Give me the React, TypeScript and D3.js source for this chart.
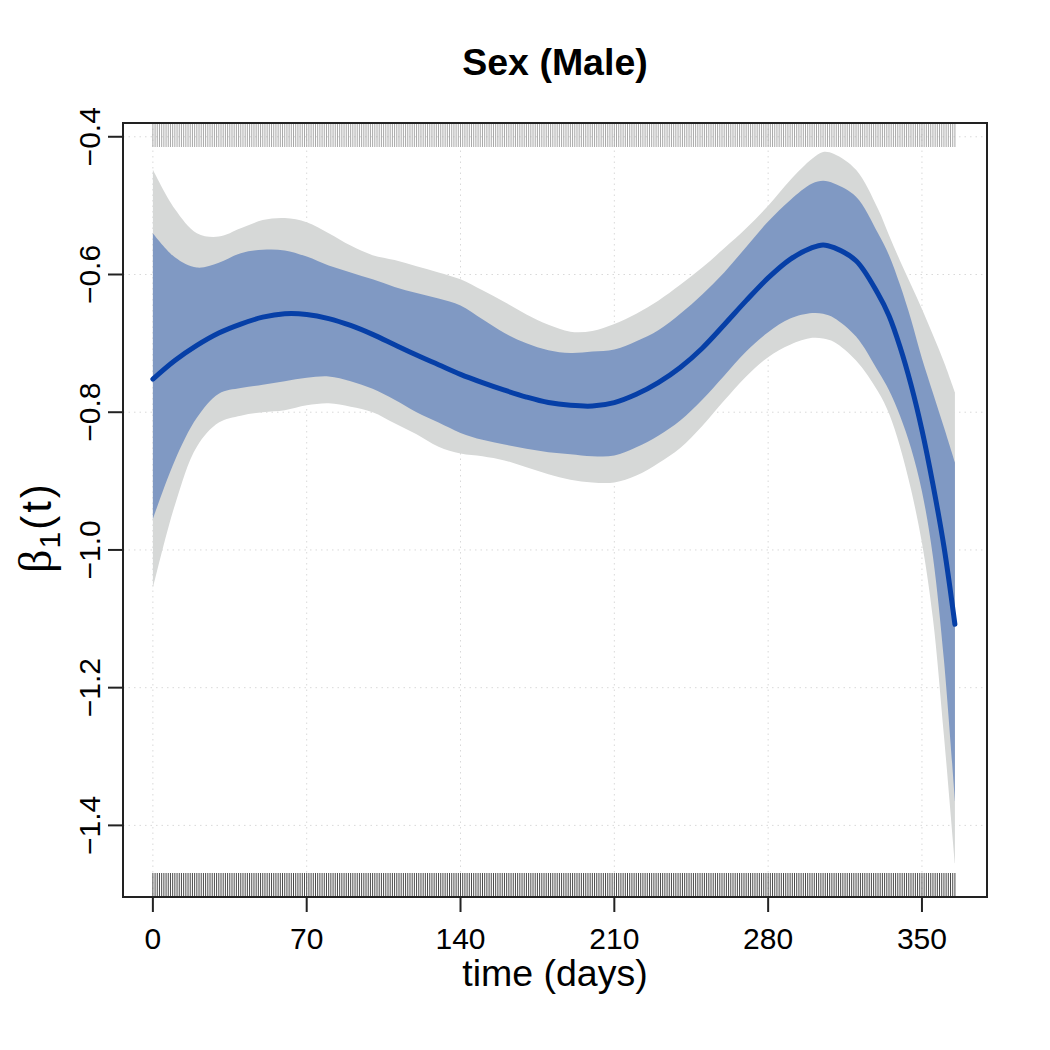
import { useEffect, useRef } from 'react';
import * as d3 from 'd3';

const W = 1050;
const H = 1050;
const BOX = { left: 123, right: 987, top: 123, bottom: 897 };

// time grid (days) the coefficient curve and its bands are sampled on
const days = [0, 10, 20, 30, 40, 50, 60, 70, 80, 90, 100, 110, 120, 130, 140, 150, 160, 170, 180, 190, 200, 210, 220, 230, 240, 250, 260, 270, 280, 290, 300, 305, 310, 320, 330, 335, 340, 345, 350, 355, 360, 365];

const beta = [-0.752, -0.725, -0.703, -0.685, -0.672, -0.662, -0.657, -0.658, -0.664, -0.674, -0.687, -0.702, -0.717, -0.731, -0.745, -0.757, -0.768, -0.778, -0.786, -0.790, -0.791, -0.786, -0.774, -0.757, -0.735, -0.707, -0.673, -0.638, -0.605, -0.578, -0.561, -0.557, -0.561, -0.580, -0.628, -0.660, -0.705, -0.760, -0.826, -0.905, -0.995, -1.108];

const innerHi = [-0.540, -0.575, -0.590, -0.583, -0.569, -0.564, -0.565, -0.574, -0.587, -0.597, -0.607, -0.618, -0.627, -0.635, -0.645, -0.665, -0.685, -0.700, -0.710, -0.714, -0.712, -0.709, -0.697, -0.681, -0.657, -0.629, -0.597, -0.560, -0.523, -0.492, -0.468, -0.464, -0.468, -0.487, -0.540, -0.572, -0.615, -0.665, -0.722, -0.772, -0.822, -0.873];

const innerLo = [-0.955, -0.870, -0.808, -0.773, -0.765, -0.760, -0.755, -0.750, -0.748, -0.755, -0.766, -0.782, -0.800, -0.815, -0.830, -0.840, -0.847, -0.853, -0.858, -0.861, -0.864, -0.863, -0.851, -0.834, -0.812, -0.782, -0.747, -0.712, -0.684, -0.664, -0.656, -0.657, -0.663, -0.690, -0.740, -0.768, -0.805, -0.852, -0.915, -1.010, -1.160, -1.365];

const outerHi = [-0.448, -0.505, -0.540, -0.545, -0.533, -0.521, -0.518, -0.524, -0.540, -0.558, -0.572, -0.579, -0.588, -0.597, -0.607, -0.623, -0.640, -0.658, -0.673, -0.683, -0.682, -0.672, -0.657, -0.638, -0.615, -0.590, -0.562, -0.533, -0.500, -0.463, -0.432, -0.422, -0.425, -0.448, -0.505, -0.543, -0.580, -0.615, -0.650, -0.688, -0.727, -0.771];

const outerLo = [-1.056, -0.935, -0.850, -0.815, -0.805, -0.800, -0.797, -0.790, -0.787, -0.792, -0.800, -0.816, -0.832, -0.850, -0.860, -0.864, -0.870, -0.880, -0.890, -0.898, -0.902, -0.902, -0.892, -0.874, -0.852, -0.820, -0.783, -0.748, -0.720, -0.702, -0.692, -0.693, -0.698, -0.725, -0.770, -0.802, -0.850, -0.912, -0.990, -1.100, -1.270, -1.455];

const xTicks = [0, 70, 140, 210, 280, 350];
const yTicks = [-1.4, -1.2, -1.0, -0.8, -0.6, -0.4];

// rug: one tick per follow-up day
const rugFirst = 0;
const rugLast = 365;

const FONT = '"Liberation Sans", Arial, Helvetica, sans-serif';

export default function App() {
  const ref = useRef<SVGSVGElement | null>(null);

  useEffect(() => {
    if (!ref.current) return;
    const svg = d3.select(ref.current);
    svg.selectAll('*').remove();

    const x = d3.scaleLinear().domain([-13.6, 379.6]).range([BOX.left, BOX.right]);
    const y = d3.scaleLinear().domain([-1.504, -0.38]).range([BOX.bottom, BOX.top]);

    svg.append('rect').attr('width', W).attr('height', H).attr('fill', '#fff');

    // dotted grid
    const grid = svg.append('g').attr('stroke', '#d9d9d9').attr('stroke-width', 1).attr('stroke-dasharray', '1.5,4');
    xTicks.forEach(t => {
      grid.append('line').attr('x1', x(t)).attr('x2', x(t)).attr('y1', BOX.top).attr('y2', BOX.bottom);
    });
    yTicks.forEach(v => {
      grid.append('line').attr('x1', BOX.left).attr('x2', BOX.right).attr('y1', y(v)).attr('y2', y(v));
    });

    const idx = d3.range(days.length);
    const band = (lo: number[], hi: number[]) =>
      d3.area<number>()
        .x(i => x(days[i]))
        .y0(i => y(lo[i]))
        .y1(i => y(hi[i]))
        .curve(d3.curveCatmullRom.alpha(0.5))(idx);

    svg.append('path').attr('d', band(outerLo, outerHi)).attr('fill', '#d6d8d7');
    svg.append('path').attr('d', band(innerLo, innerHi)).attr('fill', '#8099c3');

    const line = d3.line<number>()
      .x(i => x(days[i]))
      .y(i => y(beta[i]))
      .curve(d3.curveCatmullRom.alpha(0.5));
    svg.append('path').attr('d', line(idx)).attr('fill', 'none')
      .attr('stroke', '#063fa7').attr('stroke-width', 5).attr('stroke-linecap', 'round');

    // rugs, top (censored) lighter and bottom darker
    const rugLen = 24;
    const rug = d3.range(rugFirst, rugLast + 1);
    const top = svg.append('g').attr('stroke', '#a8a8a8').attr('stroke-width', 1);
    rug.forEach(t => {
      top.append('line').attr('x1', x(t)).attr('x2', x(t)).attr('y1', BOX.top).attr('y2', BOX.top + rugLen);
    });
    const bot = svg.append('g').attr('stroke', '#4a4a4a').attr('stroke-width', 1);
    rug.forEach(t => {
      bot.append('line').attr('x1', x(t)).attr('x2', x(t)).attr('y1', BOX.bottom - rugLen).attr('y2', BOX.bottom);
    });

    // frame
    svg.append('rect')
      .attr('x', BOX.left).attr('y', BOX.top)
      .attr('width', BOX.right - BOX.left).attr('height', BOX.bottom - BOX.top)
      .attr('fill', 'none').attr('stroke', '#222').attr('stroke-width', 2);

    // x axis
    const xa = svg.append('g');
    xa.append('line').attr('x1', x(xTicks[0])).attr('x2', x(xTicks[xTicks.length - 1]))
      .attr('y1', BOX.bottom).attr('y2', BOX.bottom).attr('stroke', '#222').attr('stroke-width', 2);
    xTicks.forEach(t => {
      xa.append('line').attr('x1', x(t)).attr('x2', x(t)).attr('y1', BOX.bottom).attr('y2', BOX.bottom + 15)
        .attr('stroke', '#222').attr('stroke-width', 2);
      xa.append('text').attr('x', x(t)).attr('y', 949).attr('text-anchor', 'middle')
        .style('font-family', FONT).style('font-size', '30px').attr('fill', '#000').text(String(t));
    });

    // y axis
    const ya = svg.append('g');
    yTicks.forEach(v => {
      ya.append('line').attr('x1', BOX.left - 15).attr('x2', BOX.left).attr('y1', y(v)).attr('y2', y(v))
        .attr('stroke', '#222').attr('stroke-width', 2);
      ya.append('text').attr('transform', `translate(100,${y(v)}) rotate(-90)`).attr('text-anchor', 'middle')
        .style('font-family', FONT).style('font-size', '30px').attr('fill', '#000')
        .text(d3.format('.1f')(v).replace('-', '\u2212'));
    });

    // titles
    svg.append('text').attr('x', (BOX.left + BOX.right) / 2).attr('y', 75).attr('text-anchor', 'middle')
      .style('font-family', FONT).style('font-size', '37.5px').style('font-weight', 'bold').text('Sex (Male)');

    svg.append('text').attr('x', (BOX.left + BOX.right) / 2).attr('y', 986).attr('text-anchor', 'middle')
      .style('font-family', FONT).style('font-size', '37.5px').text('time (days)');

    const yl = svg.append('text').attr('transform', 'translate(51,527) rotate(-90)').attr('text-anchor', 'middle')
      .style('font-family', FONT).style('font-size', '42px');
    yl.append('tspan').style('font-family', '"Liberation Serif", "Times New Roman", serif').style('font-size', '46px').text('β');
    yl.append('tspan').attr('dy', 9).attr('dx', 1).style('font-size', '30px').text('1');
    yl.append('tspan').attr('dy', -9).attr('dx', 2).style('letter-spacing', '3px').text('(t)');
  }, []);

  return (
    <div style={{ position: 'absolute', left: 0, top: 0 }}>
      <svg ref={ref} width={W} height={H} />
    </div>
  );
}
